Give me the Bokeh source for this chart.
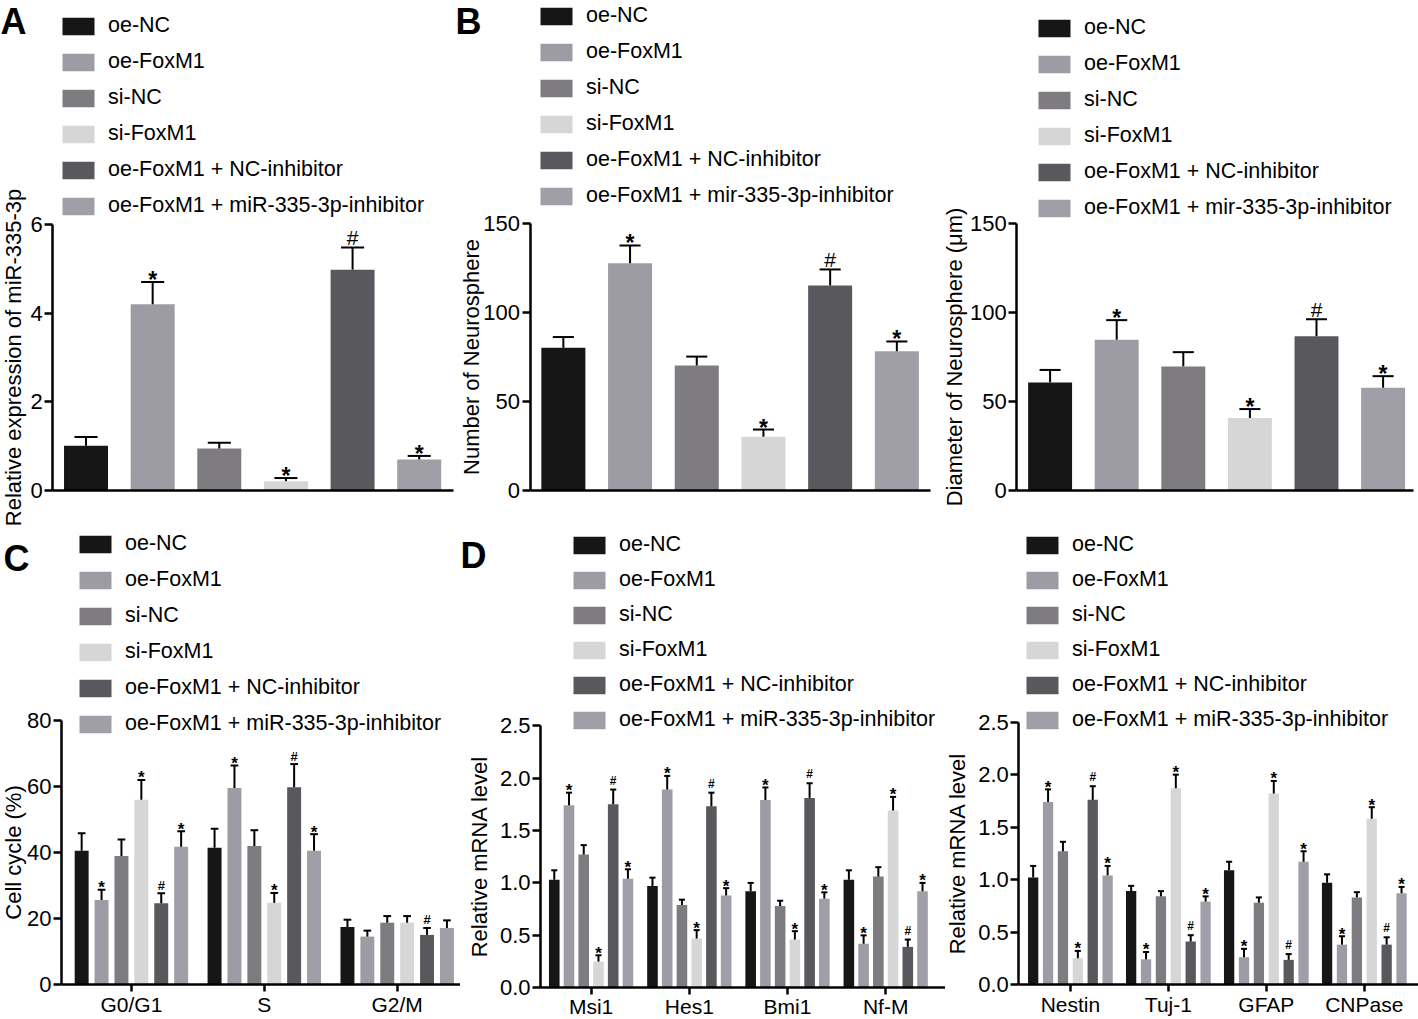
from bokeh.plotting import figure
from bokeh.models import Range1d, FixedTicker, Legend, LegendItem, Label, NumeralTickFormatter
from bokeh.layouts import row, column
from bokeh.embed import file_html
from bokeh.resources import INLINE
from bokeh.core.properties import value

FONT = "Liberation Sans"

# ---------------- data ----------------
groups_A = ["oe-NC", "oe-FoxM1", "si-NC", "si-FoxM1",
            "oe-FoxM1 + NC-inhibitor", "oe-FoxM1 + miR-335-3p-inhibitor"]
groups_B = ["oe-NC", "oe-FoxM1", "si-NC", "si-FoxM1",
            "oe-FoxM1 + NC-inhibitor", "oe-FoxM1 + mir-335-3p-inhibitor"]
sig_by_group = ["", "*", "", "*", "#", "*"]

mir_mean = [1.00, 4.20, 0.94, 0.20, 4.98, 0.69]
mir_err = [0.20, 0.50, 0.13, 0.07, 0.50, 0.08]

num_mean = [80.0, 127.5, 70.0, 30.0, 115.0, 78.0]
num_err = [6.0, 10.0, 5.0, 4.0, 9.0, 5.5]

dia_mean = [60.5, 84.5, 69.5, 40.5, 86.5, 57.5]
dia_err = [7.0, 11.0, 8.0, 5.0, 9.5, 6.5]

phases = ["G0/G1", "S", "G2/M"]
cc_mean = [[40.6, 41.5, 17.5], [25.7, 59.6, 14.6], [39.0, 42.0, 18.8],
           [56.0, 24.8, 18.8], [24.7, 59.8, 15.1], [41.8, 40.6, 17.2]]
cc_err = [[5.3, 5.7, 2.2], [3.1, 6.8, 1.8], [5.0, 4.8, 2.0],
          [6.0, 3.0, 2.0], [3.0, 7.0, 2.1], [4.7, 5.0, 2.3]]
cc_sig = [["", "", ""], ["*", "*", ""], ["", "", ""],
          ["*", "*", ""], ["#", "#", "#"], ["*", "*", ""]]

genes1 = ["Msi1", "Hes1", "Bmi1", "Nf-M"]
g1_mean = [[1.03, 0.97, 0.92, 1.03], [1.74, 1.89, 1.79, 0.42], [1.27, 0.79, 0.78, 1.06],
           [0.25, 0.47, 0.46, 1.69], [1.75, 1.73, 1.81, 0.39], [1.04, 0.88, 0.85, 0.92]]
g1_err = [[0.09, 0.08, 0.08, 0.09], [0.12, 0.13, 0.12, 0.08], [0.09, 0.05, 0.05, 0.09],
          [0.06, 0.08, 0.08, 0.13], [0.14, 0.13, 0.14, 0.07], [0.09, 0.07, 0.06, 0.08]]

genes2 = ["Nestin", "Tuj-1", "GFAP", "CNPase"]
g2_mean = [[1.02, 0.89, 1.09, 0.97], [1.74, 0.24, 0.26, 0.38], [1.27, 0.84, 0.78, 0.83],
           [0.25, 1.87, 1.82, 1.58], [1.76, 0.41, 0.235, 0.38], [1.04, 0.79, 1.17, 0.87]]
g2_err = [[0.11, 0.05, 0.08, 0.08], [0.12, 0.07, 0.08, 0.08], [0.09, 0.05, 0.05, 0.05],
          [0.07, 0.13, 0.12, 0.11], [0.13, 0.06, 0.055, 0.07], [0.09, 0.05, 0.10, 0.06]]
d_sig = [["", "", "", ""], ["*", "*", "*", "*"], ["", "", "", ""],
         ["*", "*", "*", "*"], ["#", "#", "#", "#"], ["*", "*", "*", "*"]]

colors = ["#161616", "#9d9ca5", "#7e7c80", "#d6d6d6", "#59585c", "#a09fa8"]


# ---------------- helpers ----------------
def base_fig(X0, W, Y0, H, x0p, ux, y0p, uy):
    """Figure whose frame is the whole canvas; page px -> data via (x0p, ux), (y0p, uy)."""
    xr = ((X0 - x0p) / ux, (X0 + W - x0p) / ux)
    yr = (-(Y0 + H - y0p) / uy, (y0p - Y0) / uy)
    p = figure(width=W, height=H, x_range=Range1d(*xr), y_range=Range1d(*yr),
               output_backend="svg", toolbar_location=None, title=None, min_border=0,
               min_border_left=0, min_border_right=0, min_border_top=0, min_border_bottom=0)
    p.outline_line_color = None
    p.grid.visible = False
    p.background_fill_color = "white"
    p.border_fill_color = "white"
    return p


def style_axis(ax, ticks, label_size="22px"):
    ax.ticker = FixedTicker(ticks=ticks, minor_ticks=[])
    ax.major_label_text_font = FONT
    ax.major_label_text_font_size = label_size
    ax.major_label_text_color = "black"
    ax.major_label_standoff = 2
    ax.major_tick_out = 8
    ax.major_tick_in = 0
    ax.minor_tick_out = 0
    ax.minor_tick_in = 0
    ax.axis_line_width = 2.5
    ax.axis_line_color = "black"
    ax.major_tick_line_width = 2.5
    ax.major_tick_line_color = "black"
    ax.axis_label_text_font = FONT
    ax.axis_label_text_font_size = "22px"
    ax.axis_label_text_font_style = "normal"
    ax.axis_label_text_color = "black"


def style_y(p, x_at, ticks, ymax, label, lstand, fmt=None):
    ax = p.yaxis[0]
    style_axis(ax, ticks)
    ax.fixed_location = x_at
    ax.bounds = (0, ymax)
    ax.axis_label = label
    ax.axis_label_standoff = lstand
    if fmt:
        ax.formatter = NumeralTickFormatter(format=fmt)


def style_x(p, xb, ticks, cats=None, lstand=2):
    ax = p.xaxis[0]
    style_axis(ax, ticks, "21px")
    ax.fixed_location = 0
    ax.bounds = xb
    ax.major_tick_out = 7
    ax.major_label_standoff = lstand
    if cats:
        ax.major_label_overrides = {i: c for i, c in enumerate(cats)}


def add_legend(p, renderers, labels, vx, vy, spacing=11):
    items = [LegendItem(label=l, renderers=[r]) for l, r in zip(labels, renderers)]
    lg = Legend(items=items, location=(vx, vy), orientation="vertical",
                glyph_width=40, glyph_height=22, label_height=24, spacing=spacing,
                padding=0, margin=0, border_line_color=None, background_fill_alpha=0,
                label_text_font=FONT, label_text_font_size="21.5px",
                label_text_color="black", label_standoff=10)
    p.add_layout(lg)


def add_letter(p, txt, x, y):
    p.add_layout(Label(x=x, y=y, x_units="screen", y_units="screen", text=txt,
                       text_font=FONT, text_font_size="36px", text_font_style="bold",
                       text_color="black", text_baseline="alphabetic"))


def add_marks(p, xs, tops, sigs, star_size, star_off, hash_size, hash_off, hash_style):
    sx = [x for x, s in zip(xs, sigs) if s == "*"]
    sy = [t for t, s in zip(tops, sigs) if s == "*"]
    hx = [x for x, s in zip(xs, sigs) if s == "#"]
    hy = [t for t, s in zip(tops, sigs) if s == "#"]
    if sx:
        p.text(x=sx, y=sy, text=["*"] * len(sx), text_font=value(FONT),
               text_font_size=star_size, text_font_style="bold", text_align="center",
               text_baseline="alphabetic", y_offset=star_off, text_color="black")
    if hx:
        p.text(x=hx, y=hy, text=["#"] * len(hx), text_font=value(FONT),
               text_font_size=hash_size, text_font_style=hash_style, text_align="center",
               text_baseline="alphabetic", y_offset=hash_off, text_color="black")


def single_panel(geom, xb_end, ymax, yticks, ylabel, lstand, means, errs, labels,
                 leg_vx, leg_vy, cap):
    p = base_fig(*geom)
    rs, xs, tops = [], [], []
    for i, (m, e) in enumerate(zip(means, errs)):
        x = i + 0.5
        r = p.vbar(x=[x], top=[m], bottom=0, width=0.66, fill_color=colors[i], line_color=None)
        rs.append(r)
        xs.append(x)
        tops.append(m + e)
    p.segment(x0=xs, y0=means, x1=xs, y1=tops, line_color="black", line_width=2)
    p.segment(x0=[x - cap for x in xs], y0=tops, x1=[x + cap for x in xs], y1=tops,
              line_color="black", line_width=2)
    add_marks(p, xs, tops, sig_by_group, "23px", -2, "21px", -10, "normal")
    style_y(p, 0, yticks, ymax, ylabel, lstand)
    style_x(p, (0, xb_end), [])
    add_legend(p, rs, labels, leg_vx, leg_vy)
    return p


def group_panel(geom, y_at, xb_end, ymax, yticks, ylabel, lstand, fmt, cats, means, errs,
                sigs, step, bw, cap, leg_vx, leg_vy, spacing, xlstand, hash_size, hash_off):
    p = base_fig(*geom)
    rs = []
    n = len(means)
    for i in range(n):
        off = (i - (n - 1) / 2) * step
        xs = [g + off for g in range(len(cats))]
        m = means[i]
        tops = [a + b for a, b in zip(m, errs[i])]
        r = p.vbar(x=xs, top=m, bottom=0, width=bw, fill_color=colors[i], line_color=None)
        rs.append(r)
        p.segment(x0=xs, y0=m, x1=xs, y1=tops, line_color="black", line_width=2)
        p.segment(x0=[x - cap for x in xs], y0=tops, x1=[x + cap for x in xs], y1=tops,
                  line_color="black", line_width=2)
        add_marks(p, xs, tops, sigs[i], "17px", -2, hash_size, hash_off, "bold")
    style_y(p, y_at, yticks, ymax, ylabel, lstand, fmt)
    style_x(p, (y_at, xb_end), list(range(len(cats))), cats, xlstand)
    add_legend(p, rs, groups_A, leg_vx, leg_vy, spacing)
    return p


TOP_H = 528
BOT_Y = TOP_H
BOT_H = 1019 - TOP_H

# ---------------- top row ----------------
pA = single_panel((0, 455, 0, TOP_H, 52.2, 66.64, 489.5, 44.25), 6.02, 6, [0, 2, 4, 6],
                  "Relative expression of miR-335-3p", 1, mir_mean, mir_err, groups_A,
                  58, 310, 0.173)
add_letter(pA, "A", 0, TOP_H - 21)

pB1 = single_panel((455, 483, 0, TOP_H, 529.5, 66.7, 489.5, 1.7787), 6.0, 150,
                   [0, 50, 100, 150], "Number of Neurosphere", -3, num_mean, num_err,
                   groups_B, 81, 320, 0.158)
add_letter(pB1, "B", 0, TOP_H - 21)

pB2 = single_panel((938, 480, 0, TOP_H, 1016.3, 66.6, 489.5, 1.7787), 5.96, 150,
                   [0, 50, 100, 150], "Diameter of Neurosphere (μm)", 0, dia_mean, dia_err,
                   groups_B, 96, 308, 0.158)

# ---------------- bottom row ----------------
pC = group_panel((0, 460, BOT_Y, BOT_H, 130.9, 132.9, 984.3, 3.304), -0.526, 2.514, 80,
                 [0, 20, 40, 60, 80], "Cell cycle (%)", -2, None, phases, cc_mean, cc_err,
                 cc_sig, 0.1497, 0.105, 0.029, 75, 283, 11, 1, "13px", -8)
add_letter(pC, "C", 3, 1019 - 557.5)

pD1 = group_panel((460, 485, BOT_Y, BOT_H, 590.6, 98.2, 987.3, 104.9), -0.515, 3.626, 2.5,
                  [0, 0.5, 1.0, 1.5, 2.0, 2.5], "Relative mRNA level", 5, "0.0",
                  genes1, g1_mean, g1_err, d_sig, 0.150, 0.108, 0.031, 109, 287, 10, 0,
                  "12px", -9)
add_letter(pD1, "D", 0, 1019 - 554.5)

pD2 = group_panel((945, 473, BOT_Y, BOT_H, 1069.9, 97.97, 984.0, 104.92), -0.527, 3.553, 2.5,
                  [0, 0.5, 1.0, 1.5, 2.0, 2.5], "Relative mRNA level", 5, "0.0",
                  genes2, g2_mean, g2_err, d_sig, 0.152, 0.105, 0.031, 77, 287, 10, 1,
                  "12px", -9)

layout = column(row(pA, pB1, pB2, spacing=0), row(pC, pD1, pD2, spacing=0), spacing=0)

open("out.html", "w").write(file_html(layout, INLINE))
